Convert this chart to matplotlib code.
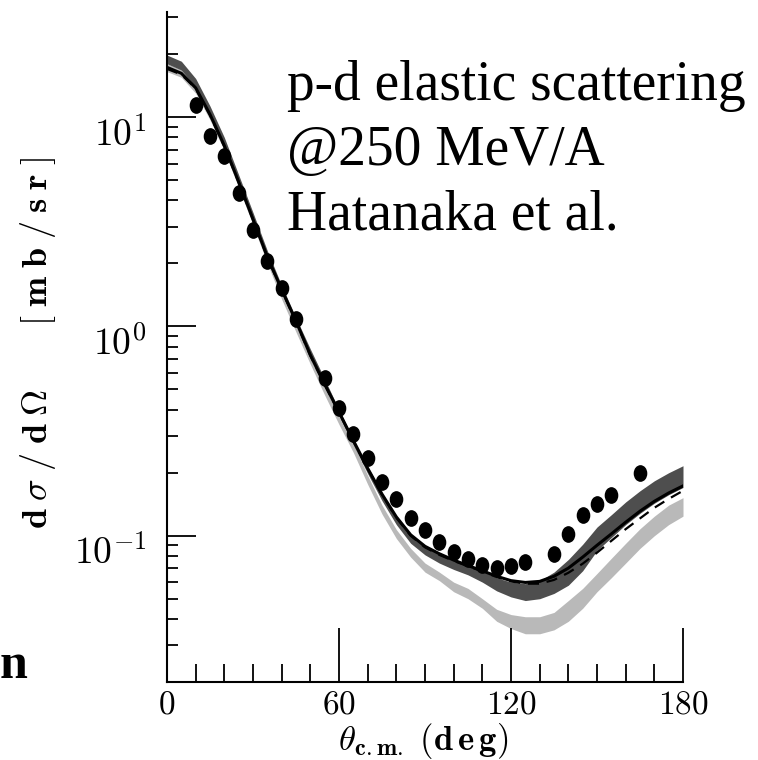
import matplotlib
matplotlib.use('Agg')
import matplotlib.pyplot as plt
from matplotlib.ticker import FixedLocator, NullFormatter
from matplotlib.path import Path
from matplotlib.transforms import Affine2D

plt.rcParams['mathtext.fontset'] = 'cm'

# scattering angle grid for the calculations (deg)
theta = [0, 5, 10, 15, 20, 25, 30, 35, 40, 45, 50, 55, 60, 65, 70, 75, 80, 85, 90,
         95, 100, 105, 110, 115, 120, 125, 130, 135, 140, 145, 150, 155, 160, 165,
         170, 175, 180]

solid = [17.3, 16.2, 13.8, 10.3, 7.3, 4.9, 3.25, 2.15, 1.5, 1.06, 0.73, 0.53, 0.39,
         0.285, 0.21, 0.158, 0.123, 0.101, 0.089, 0.082, 0.0765, 0.072, 0.068, 0.064,
         0.061, 0.0598, 0.0605, 0.064, 0.07, 0.079, 0.09, 0.102, 0.116, 0.131, 0.146,
         0.16, 0.173]

dashed = [17.0, 16.0, 13.7, 10.2, 7.25, 4.88, 3.24, 2.14, 1.49, 1.05, 0.725, 0.527,
          0.388, 0.284, 0.209, 0.157, 0.122, 0.1, 0.088, 0.081, 0.0758, 0.0715, 0.0675,
          0.0635, 0.0605, 0.059, 0.059, 0.0615, 0.0665, 0.0735, 0.083, 0.0945, 0.1075,
          0.121, 0.136, 0.15, 0.164]

dark_lo = [18.0, 16.8, 13.9, 10.2, 7.2, 4.8, 3.2, 2.1, 1.45, 1.02, 0.72, 0.52, 0.375,
           0.272, 0.198, 0.147, 0.113, 0.092, 0.081, 0.074, 0.069, 0.065, 0.06, 0.0545,
           0.051, 0.049, 0.05, 0.053, 0.058, 0.068, 0.085, 0.098, 0.113, 0.128, 0.143,
           0.157, 0.17]
dark_hi = [19.8, 18.5, 15.3, 11.3, 8.0, 5.3, 3.5, 2.3, 1.57, 1.1, 0.78, 0.56, 0.4,
           0.29, 0.213, 0.16, 0.124, 0.102, 0.09, 0.083, 0.077, 0.073, 0.068, 0.063,
           0.06, 0.059, 0.061, 0.067, 0.077, 0.091, 0.11, 0.126, 0.145, 0.164, 0.183,
           0.2, 0.216]

light_lo = [16.5, 15.5, 13.0, 9.7, 6.9, 4.6, 3.05, 2.0, 1.35, 0.94, 0.66, 0.47, 0.34,
            0.25, 0.176, 0.127, 0.097, 0.079, 0.067, 0.061, 0.054, 0.05, 0.045, 0.039,
            0.036, 0.034, 0.034, 0.0355, 0.039, 0.045, 0.054, 0.063, 0.074, 0.087, 0.1,
            0.113, 0.124]
light_hi = [18.0, 16.9, 14.2, 10.6, 7.5, 5.0, 3.3, 2.18, 1.47, 1.03, 0.72, 0.52, 0.375,
            0.275, 0.194, 0.14, 0.107, 0.087, 0.074, 0.067, 0.06, 0.056, 0.05, 0.0445,
            0.042, 0.041, 0.041, 0.043, 0.049, 0.056, 0.066, 0.078, 0.092, 0.108, 0.124,
            0.14, 0.152]

# Hatanaka et al. data
exp_theta = [10, 15, 20, 25, 30, 35, 40, 45, 55, 60, 65, 70, 75, 80, 85, 90, 95, 100,
             105, 110, 115, 120, 125, 135, 140, 145, 150, 155, 165]
exp_xs = [11.4, 8.15, 6.55, 4.33, 2.88, 2.05, 1.52, 1.09, 0.57, 0.409, 0.307, 0.236,
          0.181, 0.149, 0.122, 0.107, 0.0935, 0.0838, 0.0776, 0.0726, 0.0703, 0.0714,
          0.0746, 0.082, 0.102, 0.126, 0.142, 0.157, 0.2]

ytick_vals = [0.1, 1, 10]
ytick_text = [r'$10^{-1}$', r'$10^{0}$', r'$10^{1}$']
xtick_vals = [0, 60, 120, 180]
xtick_text = ['$0$', '$60$', '$120$', '$180$']

fig = plt.figure(figsize=(7.58, 7.60), dpi=100)
ax = fig.add_axes([167 / 758, 78 / 760, 516 / 758, 670 / 760])

ax.fill_between(theta, light_lo, light_hi, color='#b9b9b9', lw=0, zorder=1)
ax.fill_between(theta, dark_lo, dark_hi, color='#4e4e4e', lw=0, zorder=2)
ax.plot(theta, solid, color='black', lw=2.2, zorder=3)
ax.plot(theta, dashed, color='black', lw=1.6, dashes=(5, 3.5), zorder=3)

ell = Path.unit_circle().transformed(Affine2D().scale(0.8, 1.0))
ax.plot(exp_theta, exp_xs, ls='none', marker=ell, ms=11, color='black', zorder=4)

ax.set_yscale('log')
ax.set_xlim(0, 180)
ax.set_ylim(0.02, 31.8)

for s in ['top', 'right']:
    ax.spines[s].set_visible(False)
for s in ['left', 'bottom']:
    ax.spines[s].set_linewidth(1.5)

ax.set_xticks(xtick_vals)
ax.set_xticklabels(xtick_text, fontsize=24)
ax.xaxis.set_minor_locator(FixedLocator(list(range(10, 180, 10))))
ax.tick_params(axis='x', which='major', direction='in', length=39, width=1.3, pad=4)
ax.tick_params(axis='x', which='minor', direction='in', length=13, width=1.3)

ax.set_yticks(ytick_vals)
ax.set_yticklabels(ytick_text, fontsize=27)
ax.yaxis.set_minor_locator(FixedLocator([0.02, 0.03, 0.04, 0.05, 0.06, 0.07, 0.08, 0.09,
                                         0.2, 0.3, 0.4, 0.5, 0.6, 0.7, 0.8, 0.9,
                                         2, 3, 4, 5, 6, 7, 8, 9, 20, 30]))
ax.yaxis.set_minor_formatter(NullFormatter())
ax.tick_params(axis='y', which='major', direction='in', length=21, width=1.3, pad=15)
ax.tick_params(axis='y', which='minor', direction='in', length=8, width=1.3)
plt.setp(ax.get_yticklabels(), va='top')

fig.text(38 / 758, 1 - 343 / 760,
         r'$\mathbf{d}\;\sigma\;/\;\mathbf{d}\;\mathbf{\Omega}\qquad[\;\mathbf{m}\;\mathbf{b}\;/\;\mathbf{s}\;\mathbf{r}\;]$',
         rotation=90, ha='center', va='center', fontsize=26)
fig.text(423 / 758, 1 - 741 / 760, r'$\theta_{\mathbf{c.m.}}\ \mathbf{(d\,e\,g)}$',
         ha='center', va='center', fontsize=25)

serif = ['Liberation Serif', 'DejaVu Serif']
fig.text(287 / 758, 1 - 100 / 760, 'p-d elastic scattering', family=serif,
         fontsize=40, va='baseline')
fig.text(287 / 758, 1 - 165 / 760, '@250 MeV/A', family=serif,
         fontsize=40, va='baseline')
fig.text(287 / 758, 1 - 230 / 760, 'Hatanaka et al.', family=serif,
         fontsize=40, va='baseline')
fig.text(0, 1 - 678 / 760, 'n', family=serif, fontweight='bold',
         fontsize=36, ha='left', va='baseline')

fig.savefig('out.png', dpi=100)
